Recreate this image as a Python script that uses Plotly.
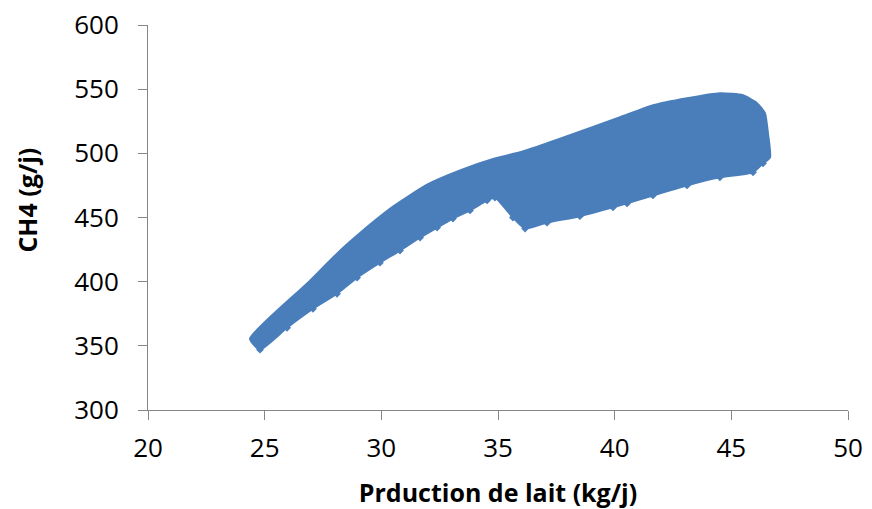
import plotly.graph_objects as go

# Upper boundary of the cloud of points (left -> right)
upper_x = [24.37, 26.81, 28.23, 29.09, 30.50, 31.96, 33.37, 34.79, 35.94,
           37.10, 37.96, 40.23, 41.64, 43.10, 44.51, 45.50, 46.10, 46.44, 46.57, 46.66]
upper_y = [355.5, 398.4, 424.2, 438.0, 458.5, 475.6, 486.7, 495.6, 500.8,
           507.8, 513.3, 528.1, 537.5, 543.0, 546.9, 545.3, 539.1, 531.3, 515.6, 496.9]

# Lower boundary (right -> left)
lower_x = [46.36, 45.93, 44.51, 43.10, 41.64, 40.53, 39.93, 38.51, 37.10, 36.16,
           35.64, 34.87, 34.53, 33.80, 33.07, 32.39, 31.66, 30.80, 29.94, 28.96,
           28.10, 27.07, 25.96, 24.80]
lower_y = [492.2, 485.2, 481.3, 475.0, 467.2, 461.0, 458.0, 451.0, 446.0, 441.4,
           450.0, 465.6, 463.3, 455.5, 449.2, 442.2, 434.4, 424.2, 414.8, 403.1,
           390.6, 378.9, 364.1, 347.0]

x_ticks = [20, 25, 30, 35, 40, 45, 50]
y_ticks = [300, 350, 400, 450, 500, 550, 600]

color = "#4A7EBB"

fig = go.Figure()
fig.add_trace(go.Scatter(
    x=upper_x + lower_x + [upper_x[0]],
    y=upper_y + lower_y + [upper_y[0]],
    mode="lines",
    fill="toself",
    fillcolor=color,
    line=dict(color=color, width=2, shape="spline", smoothing=0.5),
    hoverinfo="skip",
    showlegend=False,
))
fig.add_trace(go.Scatter(
    x=lower_x, y=lower_y, mode="markers",
    marker=dict(symbol="diamond", size=6, color=color, line=dict(width=0)),
    showlegend=False, hoverinfo="skip",
))

axis_common = dict(
    showgrid=False, zeroline=False, showline=True,
    linecolor="#868686", linewidth=1,
    ticks="outside", ticklen=9, tickcolor="#868686", tickwidth=1,
    tickfont=dict(family="Open Sans", size=26, color="#000000"),
    automargin=False,
)

fig.update_layout(
    width=872, height=509,
    margin=dict(l=148, r=24, t=25, b=99),
    paper_bgcolor="white", plot_bgcolor="white",
    xaxis=dict(range=[20, 50], tickvals=x_ticks, ticklabelstandoff=6, **axis_common,
               title=dict(text="<b>Prduction de lait (kg/j)</b>",
                          font=dict(family="Open Sans", size=25, color="#000000"),
                          standoff=24)),
    yaxis=dict(range=[300, 600], tickvals=y_ticks, ticklabelstandoff=14, **axis_common),
    annotations=[dict(
        text="<b>CH4 (g/j)</b>", textangle=-90, showarrow=False,
        xref="paper", yref="paper", x=0, y=0.544, xshift=-121,
        xanchor="center", yanchor="middle",
        font=dict(family="Open Sans", size=25, color="#000000"),
    )],
)

fig.write_html("out.html")
